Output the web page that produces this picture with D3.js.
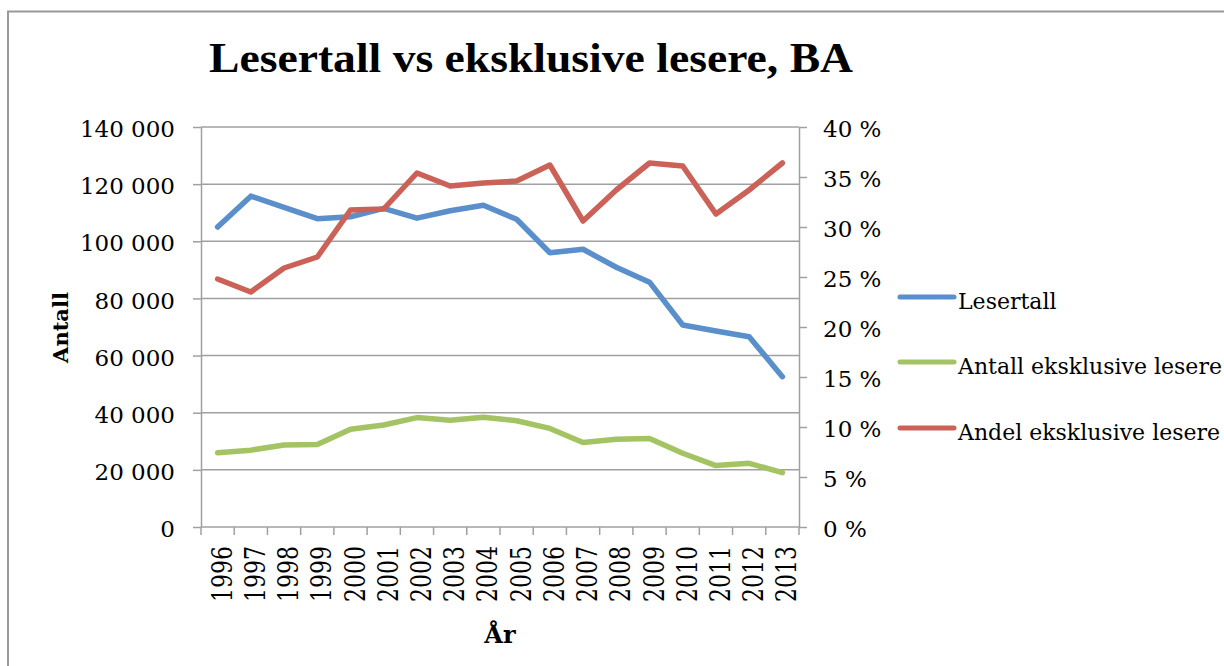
<!DOCTYPE html>
<html>
<head>
<meta charset="utf-8">
<script src="https://cdn.jsdelivr.net/npm/d3@7"></script>
<style>
    body { margin: 0; background: #fff; }
    text { font-family: "DejaVu Serif", serif; fill: #000; }
</style>
</head>
<body>
<div id="wrapper"></div>
<script>
// Data
const years = ["1996", "1997", "1998", "1999", "2000", "2001", "2002", "2003", "2004",
    "2005", "2006", "2007", "2008", "2009", "2010", "2011", "2012", "2013"];
const lesertall = [105000, 115800, 111900, 107900, 108600, 111500, 108100, 110700, 112600,
    107700, 96000, 97200, 90900, 85700, 70700, 68600, 66600, 52600];
const antallEksklusive = [26000, 26900, 28700, 28900, 34200, 35700, 38300, 37400, 38400,
    37200, 34500, 29600, 30700, 31000, 25800, 21500, 22300, 19000];
const andelEksklusive = [0.248, 0.235, 0.259, 0.270, 0.317, 0.318, 0.354, 0.341, 0.344,
    0.346, 0.362, 0.306, 0.337, 0.364, 0.361, 0.313, 0.337, 0.364];
const leftTicks = [0, 20000, 40000, 60000, 80000, 100000, 120000, 140000];
const rightTicks = [0, 0.05, 0.10, 0.15, 0.20, 0.25, 0.30, 0.35, 0.40];

const series = [
    { name: "Lesertall", values: lesertall, axis: "left", color: "#5a8fcb" },
    { name: "Antall eksklusive lesere", values: antallEksklusive, axis: "left", color: "#a4c464" },
    { name: "Andel eksklusive lesere", values: andelEksklusive, axis: "right", color: "#cc6158" }
];

function drawChart() {
    const dimensions = { width: 1224, height: 666 };
    const plot = { left: 201, right: 799, top: 127, bottom: 527 };
    const gray = "#a0a0a0";

    const svg = d3.select("#wrapper")
        .append("svg")
        .attr("width", dimensions.width)
        .attr("height", dimensions.height);

    // outer chart border (runs off the right and bottom edge)
    svg.append("rect")
        .attr("x", 8)
        .attr("y", 11.5)
        .attr("width", 1300)
        .attr("height", 800)
        .attr("fill", "none")
        .attr("stroke", "#999")
        .attr("stroke-width", 2);

    // scales
    const xScale = d3.scaleBand()
        .domain(years)
        .range([plot.left, plot.right]);

    const yLeft = d3.scaleLinear()
        .domain([0, 140000])
        .range([plot.bottom, plot.top]);

    const yRight = d3.scaleLinear()
        .domain([0, 0.4])
        .range([plot.bottom, plot.top]);

    const nbLocale = d3.formatLocale({ decimal: ",", thousands: " ", grouping: [3], currency: ["", ""] });
    const fmtLeft = nbLocale.format(",");
    const fmtRight = d => Math.round(d * 100) + " %";

    // gridlines
    svg.append("g")
        .selectAll("line")
        .data(leftTicks.slice(1))
        .join("line")
        .attr("x1", plot.left)
        .attr("x2", plot.right)
        .attr("y1", d => yLeft(d))
        .attr("y2", d => yLeft(d))
        .attr("stroke", gray)
        .attr("stroke-width", 1.5);

    // left axis
    const yAxisLeft = svg.append("g")
        .attr("transform", `translate(${plot.left},0)`)
        .call(d3.axisLeft(yLeft)
            .tickValues(leftTicks)
            .tickFormat(fmtLeft)
            .tickSize(8)
            .tickSizeOuter(0)
            .tickPadding(18));

    // right axis
    const yAxisRight = svg.append("g")
        .attr("transform", `translate(${plot.right},0)`)
        .call(d3.axisRight(yRight)
            .tickValues(rightTicks)
            .tickFormat(fmtRight)
            .tickSize(8)
            .tickSizeOuter(0)
            .tickPadding(16));

    [yAxisLeft, yAxisRight].forEach(ax => {
        ax.select(".domain").attr("stroke", gray).attr("stroke-width", 1.5);
        ax.selectAll(".tick line").attr("stroke", gray).attr("stroke-width", 1.5);
        ax.selectAll(".tick text")
            .attr("font-family", "DejaVu Serif")
            .attr("font-size", 23)
            .attr("fill", "#000")
            .attr("dy", "0.42em");
    });

    // x axis: line, ticks between categories, rotated year labels
    const xAxis = svg.append("g");
    xAxis.append("line")
        .attr("x1", plot.left)
        .attr("x2", plot.right)
        .attr("y1", plot.bottom)
        .attr("y2", plot.bottom)
        .attr("stroke", gray)
        .attr("stroke-width", 1.5);

    xAxis.selectAll(".xtick")
        .data(years.concat(["end"]))
        .join("line")
        .attr("class", "xtick")
        .attr("x1", d => d === "end" ? plot.right : xScale(d))
        .attr("x2", d => d === "end" ? plot.right : xScale(d))
        .attr("y1", plot.bottom)
        .attr("y2", plot.bottom + 8)
        .attr("stroke", gray)
        .attr("stroke-width", 1.5);

    xAxis.selectAll(".xlabel")
        .data(years)
        .join("text")
        .attr("class", "xlabel")
        .attr("transform", d => `translate(${xScale(d) + xScale.bandwidth() / 2 + 14},546) rotate(-90) scale(1,1.3)`)
        .attr("text-anchor", "end")
        .attr("font-size", 22)
        .text(d => d);

    // lines
    const lineLeft = d3.line()
        .x((d, i) => xScale(years[i]) + xScale.bandwidth() / 2)
        .y(d => yLeft(d));
    const lineRight = d3.line()
        .x((d, i) => xScale(years[i]) + xScale.bandwidth() / 2)
        .y(d => yRight(d));

    svg.append("g")
        .selectAll("path")
        .data(series)
        .join("path")
        .attr("d", s => (s.axis === "left" ? lineLeft : lineRight)(s.values))
        .attr("fill", "none")
        .attr("stroke", s => s.color)
        .attr("stroke-width", 5.5)
        .attr("stroke-linecap", "round")
        .attr("stroke-linejoin", "round");

    // legend
    const legend = svg.append("g")
        .attr("transform", "translate(900,0)");
    const legendY = [297, 362, 428];
    const items = legend.selectAll("g")
        .data(series)
        .join("g")
        .attr("transform", (d, i) => `translate(0,${legendY[i]})`);
    items.append("line")
        .attr("x1", 0)
        .attr("x2", 54)
        .attr("stroke", d => d.color)
        .attr("stroke-width", 5)
        .attr("stroke-linecap", "round");
    items.append("text")
        .attr("x", 58)
        .attr("y", 4)
        .attr("dy", "0.35em")
        .attr("font-size", 22)
        .text(d => d.name);

    // title and axis titles
    svg.append("text")
        .attr("x", 531)
        .attr("y", 72)
        .attr("text-anchor", "middle")
        .style("font-family", "'Liberation Serif', serif")
        .style("font-weight", "bold")
        .style("font-size", "42px")
        .attr("textLength", 644)
        .attr("lengthAdjust", "spacingAndGlyphs")
        .text("Lesertall vs eksklusive lesere, BA");

    svg.append("text")
        .attr("transform", "translate(68,327.5) rotate(-90)")
        .attr("text-anchor", "middle")
        .style("font-weight", "bold")
        .style("font-size", "21px")
        .text("Antall");

    svg.append("text")
        .attr("x", 500)
        .attr("y", 643)
        .attr("text-anchor", "middle")
        .style("font-weight", "bold")
        .style("font-size", "24px")
        .text("År");
}

drawChart();
</script>
</body>
</html>
